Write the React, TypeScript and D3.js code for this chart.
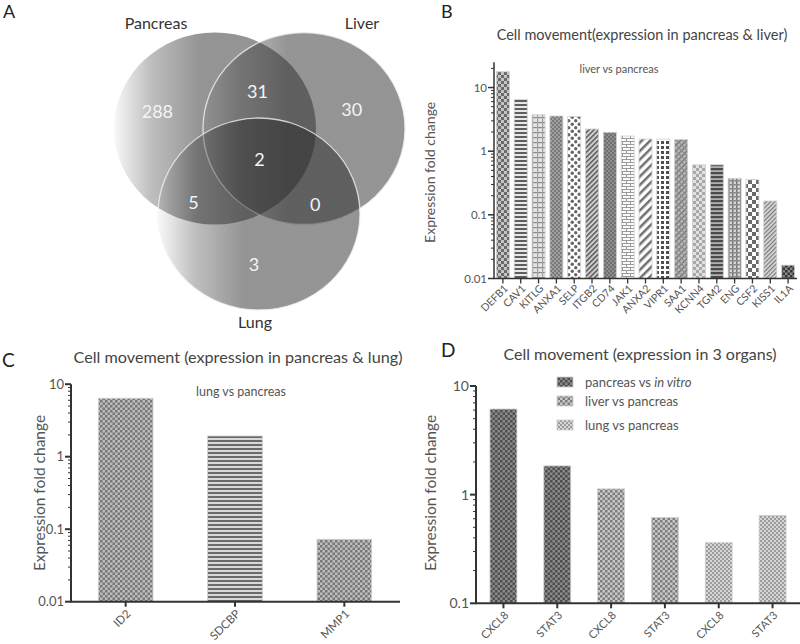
import React from 'react';
import * as d3 from 'd3';

// ---------- DATA ----------
const vennSets = ['Pancreas', 'Liver', 'Lung'];
// region membership bitmask: 1 = Pancreas, 2 = Liver, 4 = Lung
const vennMasks = [1, 2, 4, 3, 5, 6, 7];
const vennCounts = [288, 30, 3, 31, 5, 0, 2];

const bTitle = 'Cell movement(expression in pancreas & liver)';
const bSubtitle = 'liver vs pancreas';
const bGenes = ['DEFB1', 'CAV1', 'KITLG', 'ANXA1', 'SELP', 'ITGB2', 'CD74', 'JAK1', 'ANXA2', 'VIPR1', 'SAA1', 'KCNN4', 'TGM2', 'ENG', 'CSF2', 'KISS1', 'IL1A'];
const bValues = [17.7, 6.5, 3.74, 3.57, 3.5, 2.23, 1.98, 1.73, 1.55, 1.55, 1.52, 0.61, 0.61, 0.375, 0.356, 0.165, 0.0162];
const bTicks = [0.01, 0.1, 1, 10];
const bTickLabels = ['0.01', '0.1', '1', '10'];

const cTitle = 'Cell movement (expression in pancreas & lung)';
const cSubtitle = 'lung vs pancreas';
const cGenes = ['ID2', 'SDCBP', 'MMP1'];
const cValues = [6.4, 1.93, 0.0725];
const cTicks = [0.01, 0.1, 1, 10];
const cTickLabels = ['0.01', '0.1', '1', '10'];

const dTitle = 'Cell movement (expression in 3 organs)';
const dGenes = ['CXCL8', 'STAT3', 'CXCL8', 'STAT3', 'CXCL8', 'STAT3'];
const dValues = [6.14, 1.84, 1.13, 0.615, 0.361, 0.645];
const dGroup = [0, 0, 1, 1, 2, 2];
const dLegend = ['pancreas vs ', 'liver vs pancreas', 'lung vs pancreas'];
const dLegendItalic = ['in vitro', '', ''];
const dTicks = [0.1, 1, 10];
const dTickLabels = ['0.1', '1', '10'];

const yLabel = 'Expression fold change';

// ---------- STYLE / LAYOUT ----------
const FONT = "Lato, 'Open Sans', sans-serif";
const TXT = '#555';
const AX = '#333';
const bPatterns = ['pChkDark', 'pHStripe', 'pKit', 'pDense', 'pDots', 'pDiagThin', 'pSolidDark', 'pBrick', 'pDiagWide', 'pGrid', 'pCross', 'pChkLight', 'pHStripeDark', 'pPlaid', 'pChkBig', 'pDiagFine', 'pChkBlack'];
const cPatterns = ['pChkMid', 'pHStripeC', 'pChkMid'];
const dPatterns = ['pChkD1', 'pChkD2', 'pChkD3'];

const vennGeom = [
  { cx: 215, cy: 128.5 },
  { cx: 304, cy: 128.5 },
  { cx: 259, cy: 214 },
];
const VRX = 101, VRY = 96;
// small label nudges from the region centroid (layout)
const vennNudge = [[-12, 7], [2, 4], [-5, 7], [-2, 0], [-6, 12], [-4, 13], [0, 0]];

function inEllipse(x: number, y: number, i: number) {
  const g = vennGeom[i];
  const dx = (x - g.cx) / VRX, dy = (y - g.cy) / VRY;
  return dx * dx + dy * dy <= 1;
}

function regionCentroid(mask: number) {
  let sx = 0, sy = 0, n = 0;
  for (let x = 100; x < 420; x += 2) {
    for (let y = 20; y < 320; y += 2) {
      let m = 0;
      for (let i = 0; i < 3; i++) if (inEllipse(x, y, i)) m |= 1 << i;
      if (m === mask) { sx += x; sy += y; n++; }
    }
  }
  return { x: sx / n, y: sy / n };
}

function Patterns() {
  return (
    <defs>
      {[
        ['pChkDark', 3, '#c4c4c4', '#6a6a6a'],
        ['pChkLight', 3, '#e2e2e2', '#a8a8a8'],
        ['pChkBig', 4, '#ffffff', '#6a6a6a'],
        ['pChkBlack', 2.5, '#888', '#333'],
        ['pChkMid', 2.5, '#bdbdbd', '#777'],
        ['pChkD1', 2.5, '#8a8a8a', '#4e4e4e'],
        ['pChkD2', 2.5, '#c8c8c8', '#7c7c7c'],
        ['pChkD3', 2, '#d6d6d6', '#9a9a9a'],
        ['pDense', 2, '#a0a0a0', '#7a7a7a'],
        ['pSolidDark', 2, '#8e8e8e', '#6e6e6e'],
      ].map(([id, s, bg, fg]: any) => (
        <pattern key={id} id={id} width={s * 2} height={s * 2} patternUnits="userSpaceOnUse">
          <rect width={s * 2} height={s * 2} fill={bg} />
          <rect width={s} height={s} fill={fg} />
          <rect x={s} y={s} width={s} height={s} fill={fg} />
        </pattern>
      ))}
      {[
        ['pHStripe', 4, 2, '#e8e8e8', '#5e5e5e'],
        ['pHStripeDark', 4, 2.2, '#b0b0b0', '#4a4a4a'],
        ['pHStripeC', 4, 2, '#d8d8d8', '#6a6a6a'],
      ].map(([id, p, t, bg, fg]: any) => (
        <pattern key={id} id={id} width={8} height={p} patternUnits="userSpaceOnUse">
          <rect width={8} height={p} fill={bg} />
          <rect width={8} height={t} fill={fg} />
        </pattern>
      ))}
      {[
        ['pDiagThin', 3.5, 1.5, '#d0d0d0', '#5a5a5a'],
        ['pDiagWide', 6, 2.5, '#ffffff', '#707070'],
        ['pDiagFine', 3, 1.2, '#d8d8d8', '#7a7a7a'],
      ].map(([id, p, t, bg, fg]: any) => (
        <pattern key={id} id={id} width={p} height={p} patternUnits="userSpaceOnUse" patternTransform="rotate(45)">
          <rect width={p} height={p} fill={bg} />
          <rect width={t} height={p} fill={fg} />
        </pattern>
      ))}
      <pattern id="pKit" width={5} height={5} patternUnits="userSpaceOnUse">
        <rect width={5} height={5} fill="#e4e4e4" />
        <rect x={0} y={2} width={5} height={1.2} fill="#8a8a8a" />
        <rect x={2} y={0} width={1.2} height={5} fill="#a0a0a0" />
      </pattern>
      <pattern id="pDots" width={7} height={7} patternUnits="userSpaceOnUse">
        <rect width={7} height={7} fill="#ffffff" />
        <circle cx={1.75} cy={1.75} r={1.7} fill="#666" />
        <circle cx={5.25} cy={5.25} r={1.7} fill="#666" />
      </pattern>
      <pattern id="pBrick" width={8} height={6} patternUnits="userSpaceOnUse">
        <rect width={8} height={6} fill="#fafafa" />
        <rect y={0} width={8} height={1} fill="#9a9a9a" />
        <rect y={3} width={8} height={1} fill="#9a9a9a" />
        <rect x={2} y={0} width={1} height={3} fill="#9a9a9a" />
        <rect x={6} y={3} width={1} height={3} fill="#9a9a9a" />
      </pattern>
      <pattern id="pGrid" width={5} height={5} patternUnits="userSpaceOnUse">
        <rect width={5} height={5} fill="#ffffff" />
        <rect x={1} y={1} width={3} height={3} fill="#4e4e4e" />
      </pattern>
      <pattern id="pCross" width={4} height={4} patternUnits="userSpaceOnUse" patternTransform="rotate(45)">
        <rect width={4} height={4} fill="#b8b8b8" />
        <rect width={1.2} height={4} fill="#6e6e6e" />
        <rect width={4} height={1.2} fill="#8a8a8a" />
      </pattern>
      <pattern id="pPlaid" width={4} height={4} patternUnits="userSpaceOnUse">
        <rect width={4} height={4} fill="#d4d4d4" />
        <rect width={1.5} height={4} fill="#7a7a7a" />
        <rect width={4} height={1.5} fill="#8a8a8a" />
      </pattern>
      <linearGradient id="vennGrad" x1="0" x2="1" y1="0" y2="0">
        <stop offset="0" stopColor="#2a2a2a" stopOpacity={0.03} />
        <stop offset="0.18" stopColor="#2a2a2a" stopOpacity={0.3} />
        <stop offset="0.42" stopColor="#2a2a2a" stopOpacity={0.5} />
        <stop offset="1" stopColor="#2a2a2a" stopOpacity={0.5} />
      </linearGradient>
    </defs>
  );
}

type AxisProps = {
  y: d3.ScaleLogarithmic<number, number>;
  x0: number;
  x1: number;
  ticks: number[];
  labels: string[];
  fs: number;
  sw: number;
};

function LogYAxis({ y, x0, x1, ticks, labels, fs, sw }: AxisProps) {
  const [lo, hi] = y.domain();
  const minors: number[] = [];
  for (let e = Math.floor(Math.log10(lo)); e <= Math.ceil(Math.log10(hi)); e++) {
    for (let k = 2; k <= 9; k++) {
      const v = k * Math.pow(10, e);
      if (v > lo && v <= hi) minors.push(v);
    }
  }
  const yb = y(lo);
  return (
    <g>
      <line x1={x0} x2={x0} y1={y(hi)} y2={yb} stroke={AX} strokeWidth={sw} />
      <line x1={x0 - sw / 2} x2={x1} y1={yb} y2={yb} stroke={AX} strokeWidth={sw} />
      {minors.map((v, i) => (
        <line key={i} x1={x0 - 3} x2={x0} y1={y(v)} y2={y(v)} stroke={AX} strokeWidth={1} />
      ))}
      {ticks.map((v, i) => (
        <g key={i}>
          <line x1={x0 - 6} x2={x0} y1={y(v)} y2={y(v)} stroke={AX} strokeWidth={sw} />
          <text x={x0 - 7} y={y(v)} dy="0.35em" textAnchor="end" fontSize={fs} fill={TXT} fontFamily={FONT}>
            {labels[i]}
          </text>
        </g>
      ))}
    </g>
  );
}

function XTicks({ x, names, yb, fs, sw, off }: { x: d3.ScaleBand<string>; names: string[]; yb: number; fs: number; sw: number; off: number }) {
  return (
    <g>
      {names.map((n, i) => {
        const cx = (x(String(i)) as number) + x.bandwidth() / 2;
        return (
          <g key={i}>
            <line x1={cx} x2={cx} y1={yb} y2={yb + 5} stroke={AX} strokeWidth={sw} />
            <text
              transform={`translate(${cx + 3},${yb + off}) rotate(-45)`}
              textAnchor="end"
              dy="0.35em"
              fontSize={fs}
              fill={TXT}
              fontFamily={FONT}
            >
              {n}
            </text>
          </g>
        );
      })}
    </g>
  );
}

function Bars({ x, y, values, pats }: { x: d3.ScaleBand<string>; y: d3.ScaleLogarithmic<number, number>; values: number[]; pats: string[] }) {
  const yb = y(y.domain()[0]);
  return (
    <g>
      {values.map((v, i) => (
        <rect
          key={i}
          x={x(String(i))}
          y={y(v)}
          width={x.bandwidth()}
          height={yb - y(v)}
          fill={`url(#${pats[i]})`}
          stroke="#cfcfcf"
          strokeWidth={0.8}
        />
      ))}
    </g>
  );
}

function Venn() {
  return (
    <g>
      {vennGeom.map((g, i) => (
        <ellipse
          key={i}
          cx={g.cx}
          cy={g.cy}
          rx={VRX}
          ry={VRY}
          fill="url(#vennGrad)"
          stroke={i === 0 ? 'none' : '#f2f2f2'}
          strokeOpacity={0.8}
          strokeWidth={1.3}
        />
      ))}
      {vennMasks.map((m, i) => {
        const c = regionCentroid(m);
        return (
          <text key={i} x={c.x + vennNudge[i][0]} y={c.y + vennNudge[i][1]} dy="0.35em" textAnchor="middle" fontSize={18} fill="#f4f4f4" fontFamily={FONT}>
            {vennCounts[i]}
          </text>
        );
      })}
      <text x={vennGeom[0].cx - 59} y={29} textAnchor="middle" fontSize={16} fill="#333" fontFamily={FONT}>{vennSets[0]}</text>
      <text x={vennGeom[1].cx + 58} y={29} textAnchor="middle" fontSize={16} fill="#333" fontFamily={FONT}>{vennSets[1]}</text>
      <text x={vennGeom[2].cx - 4} y={328} textAnchor="middle" fontSize={16} fill="#333" fontFamily={FONT}>{vennSets[2]}</text>
    </g>
  );
}

export default function App() {
  const byB = d3.scaleLog().domain([0.01, 25]).range([278.5, 62.2]);
  const bxB = d3.scaleBand<string>().domain(bGenes.map((_, i) => String(i))).range([494, 797]).paddingInner(0.27).paddingOuter(0.135);
  const cy = d3.scaleLog().domain([0.01, 10]).range([601.7, 384.2]);
  const cx = d3.scaleBand<string>().domain(cGenes.map((_, i) => String(i))).range([71, 399]).paddingInner(0.5).paddingOuter(0.25);
  const dy = d3.scaleLog().domain([0.1, 10]).range([603.3, 386]);
  const dx = d3.scaleBand<string>().domain(dGenes.map((_, i) => String(i))).range([476, 800]).paddingInner(0.5).paddingOuter(0.26);

  return (
    <svg width={800} height={644} style={{ position: 'absolute', left: 0, top: 0, background: '#fff' }} fontFamily={FONT}>
      <Patterns />
      <rect width={800} height={644} fill="#fff" />

      {/* Panel A */}
      <text x={3} y={18} fontSize={18} fill="#222">A</text>
      <Venn />

      {/* Panel B */}
      <text x={441} y={18} fontSize={18} fill="#222">B</text>
      <text x={642} y={40} textAnchor="middle" fontSize={14.5} fill="#444">{bTitle}</text>
      <text x={619} y={73} textAnchor="middle" fontSize={11} fill={TXT}>{bSubtitle}</text>
      <text transform={`translate(435,${(byB(0.01) + byB(25)) / 2 + 2}) rotate(-90)`} textAnchor="middle" fontSize={14} fill={TXT}>{yLabel}</text>
      <Bars x={bxB} y={byB} values={bValues} pats={bPatterns} />
      <LogYAxis y={byB} x0={494} x1={797} ticks={bTicks} labels={bTickLabels} fs={11.5} sw={1.5} />
      <XTicks x={bxB} names={bGenes} yb={278.5} fs={10.5} sw={1.3} off={8} />

      {/* Panel C */}
      <text x={2} y={367} fontSize={19} fill="#222">C</text>
      <text x={238} y={363} textAnchor="middle" fontSize={16.2} fill="#444">{cTitle}</text>
      <text x={241} y={396} textAnchor="middle" fontSize={12.5} fill={TXT}>{cSubtitle}</text>
      <text transform={`translate(45,493) rotate(-90)`} textAnchor="middle" fontSize={15.5} fill={TXT}>{yLabel}</text>
      <Bars x={cx} y={cy} values={cValues} pats={cPatterns} />
      <LogYAxis y={cy} x0={71} x1={400} ticks={cTicks} labels={cTickLabels} fs={13} sw={2} />
      <XTicks x={cx} names={cGenes} yb={601.7} fs={11.5} sw={2} off={10} />

      {/* Panel D */}
      <text x={441} y={357} fontSize={19} fill="#222">D</text>
      <text x={640} y={360} textAnchor="middle" fontSize={16} fill="#444">{dTitle}</text>
      {dLegend.map((l, i) => (
        <g key={i}>
          <rect x={557} y={[377, 396, 420][i]} width={16} height={10} fill={`url(#${dPatterns[i]})`} stroke="#cfcfcf" strokeWidth={0.8} />
          <text x={585} y={[382, 401, 425.5][i]} dy="0.35em" fontSize={13} fill={TXT}>
            {l}
            {dLegendItalic[i] ? <tspan fontStyle="italic">{dLegendItalic[i]}</tspan> : null}
          </text>
        </g>
      ))}
      <text transform={`translate(436,493) rotate(-90)`} textAnchor="middle" fontSize={15.5} fill={TXT}>{yLabel}</text>
      <Bars x={dx} y={dy} values={dValues} pats={dGroup.map((g) => dPatterns[g])} />
      <LogYAxis y={dy} x0={476} x1={800} ticks={dTicks} labels={dTickLabels} fs={14} sw={2} />
      <XTicks x={dx} names={dGenes} yb={603.3} fs={11} sw={2} off={10} />
    </svg>
  );
}
